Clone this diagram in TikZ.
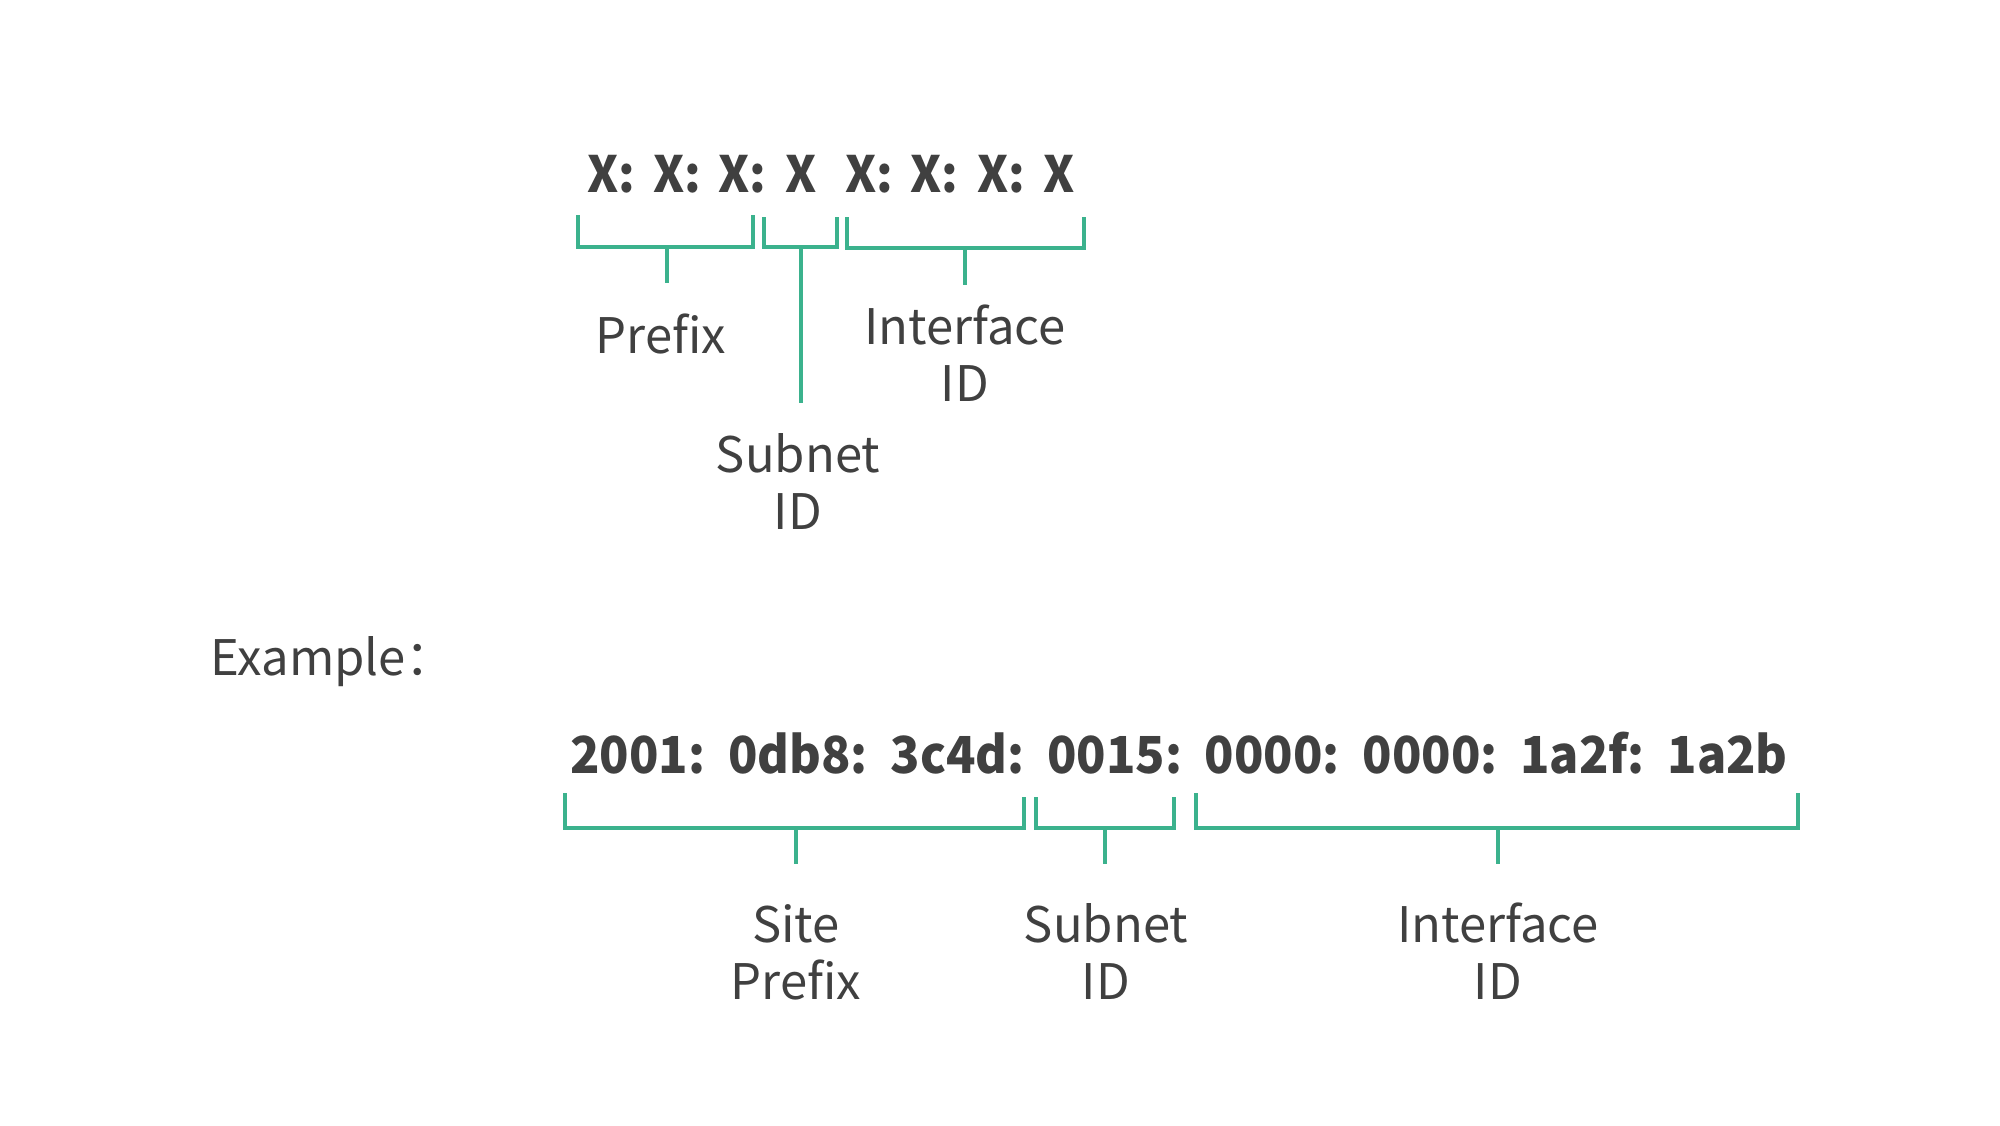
\documentclass[tikz,border=0pt]{standalone}
\usepackage{fontspec}
\setmainfont{Noto Sans CJK SC}
\newfontfamily\addrfont[FakeStretch=0.95]{Noto Sans CJK SC}
\definecolor{brkc}{RGB}{59,178,141}
\definecolor{txtc}{RGB}{64,64,64}
\newcommand\grpspace[1]{\setbox0\hbox{0000:}\spaceskip=\dimexpr#1-\wd0\relax}
\begin{document}
\begin{tikzpicture}[x=0.5pt,y=-0.5pt,
  brk/.style={draw=brkc, line width=2pt},
  lbl/.style={text=txtc, font=\fontsize{24.5}{28.5}\selectfont, align=center, inner sep=0pt, anchor=base},
  addr/.style={text=txtc, font=\addrfont\bfseries\fontsize{25}{30}\selectfont, inner sep=0pt, anchor=base west},
  addrb/.style={text=txtc, font=\addrfont\bfseries\fontsize{25.5}{30}\selectfont, inner sep=0pt, anchor=base west}]
\useasboundingbox[fill=white] (0,0) rectangle (2000,1125);

% top format
\node[addr] (fmt) at (587,192) {\makebox[33pt][l]{X:}\makebox[32.5pt][l]{X:}\makebox[33.5pt][l]{X:}\makebox[30pt][l]{X}\makebox[32.5pt][l]{X:}\makebox[33.5pt][l]{X:}\makebox[33pt][l]{X:}X};

\draw[brk] (578,215) -- (578,247) -- (753,247) -- (753,215);
\draw[brk] (667,247) -- (667,283);
\draw[brk] (764,217) -- (764,247) -- (837,247) -- (837,217);
\draw[brk] (801,247) -- (801,403);
\draw[brk] (847,217) -- (847,248) -- (1084,248) -- (1084,217);
\draw[brk] (965,248) -- (965,285);

\node[lbl] (prefix) at (661,353) {Prefix};
\node[lbl] (ifid) at (965,401) {Interface\\ID};
\node[lbl] (snid) at (798,529) {Subnet\\ID};

\node[lbl, anchor=base west] (example) at (210,675) {Example：};

% example address
\node[addrb] (ex) at (570,773) {\grpspace{77pt}2001: 0db8: 3c4d: 0015: 0000: 0000: 1a2f: 1a2b};

\draw[brk] (565,793) -- (565,828) -- (1024,828) -- (1024,797);
\draw[brk] (796,828) -- (796,864);
\draw[brk] (1036,797) -- (1036,828) -- (1174,828) -- (1174,797);
\draw[brk] (1105,828) -- (1105,864);
\draw[brk] (1196,793) -- (1196,828) -- (1798,828) -- (1798,793);
\draw[brk] (1498,828) -- (1498,864);

\node[lbl] (site) at (796,999) {Site\\Prefix};
\node[lbl] (snid2) at (1106,999) {Subnet\\ID};
\node[lbl] (ifid2) at (1498,999) {Interface\\ID};
\end{tikzpicture}
\end{document}
